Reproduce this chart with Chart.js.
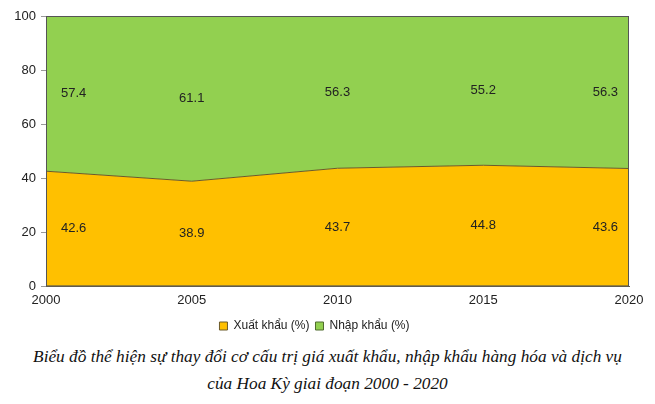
<!DOCTYPE html>
<html>
<head>
<meta charset="utf-8">
<script src="https://cdn.jsdelivr.net/npm/chart.js@4"></script>
<style>
  html, body { margin: 0; padding: 0; background: #fff; }
  #wrap { width: 655px; height: 342px; position: relative; }
  .caption {
    font-family: "Liberation Serif", "DejaVu Serif", serif;
    font-style: italic;
    font-size: 17.3px;
    text-align: center;
    color: #111;
    line-height: 27px;
    margin-top: 1px;
  }
</style>
</head>
<body>
<div id="wrap"><canvas id="chart"></canvas></div>
<div class="caption">Biểu đồ thể hiện sự thay đổi cơ cấu trị giá xuất khẩu, nhập khẩu hàng hóa và dịch vụ<br>của Hoa Kỳ giai đoạn 2000 - 2020</div>
<script>
// Dữ liệu
const years = ['2000', '2005', '2010', '2015', '2020'];
const exportShare = [42.6, 38.9, 43.7, 44.8, 43.6];
const importShare = [57.4, 61.1, 56.3, 55.2, 56.3];
const yTicks = [0, 20, 40, 60, 80, 100];

// Ghi nhãn giá trị ở giữa mỗi vùng
const valueLabels = {
    id: 'valueLabels',
    afterDatasetsDraw(chart) {
        const ctx = chart.ctx;
        const x = chart.scales.x, y = chart.scales.y;
        ctx.save();
        ctx.font = '13px "Liberation Sans", Arial, sans-serif';
        ctx.fillStyle = '#222';
        ctx.textBaseline = 'middle';
        years.forEach((yr, i) => {
            const px = x.getPixelForValue(i);
            let align = 'center', dx = 0;
            if (i === 0) { align = 'left'; dx = 15; }
            if (i === years.length - 1) { align = 'right'; dx = -11; }
            ctx.textAlign = align;
            const e = exportShare[i], m = importShare[i];
            ctx.fillText(e.toFixed(1), px + dx, y.getPixelForValue(e / 2));
            ctx.fillText(m.toFixed(1), px + dx, y.getPixelForValue(e + m / 2));
        });
        // khung vùng vẽ
        const a = chart.chartArea;
        ctx.strokeStyle = '#555';
        ctx.lineWidth = 1;
        ctx.strokeRect(a.left + 0.5, a.top + 0.5, a.right - a.left - 1, a.bottom - a.top - 1);
        ctx.restore();
    }
};

const ctx = document.getElementById('chart').getContext('2d');
const chart = new Chart(ctx, {
    type: 'line',
    data: {
        labels: years,
        datasets: [{
            label: 'Xuất khẩu (%)',
            data: exportShare,
            backgroundColor: '#ffc000',
            borderColor: '#6b5a2a',
            borderWidth: 1,
            pointRadius: 0,
            fill: 'origin',
            tension: 0
        }, {
            label: 'Nhập khẩu (%)',
            data: importShare,
            backgroundColor: '#92d050',
            borderColor: '#4f6b2e',
            borderWidth: 1,
            pointRadius: 0,
            fill: '-1',
            tension: 0
        }]
    },
    options: {
        responsive: true,
        maintainAspectRatio: false,
        animation: false,
        layout: { padding: { top: 16, right: 26, left: 0, bottom: 0 } },
        scales: {
            x: {
                type: 'category',
                offset: false,
                grid: { display: false, drawTicks: false },
                border: { display: true, color: '#555' },
                ticks: {
                    color: '#222',
                    padding: 6,
                    maxRotation: 0,
                    font: { size: 13, family: '"Liberation Sans", Arial, sans-serif' }
                }
            },
            y: {
                stacked: true,
                min: 0,
                max: 100,
                afterBuildTicks(axis) { axis.ticks = yTicks.map(v => ({ value: v })); },
                afterFit(axis) { axis.width = 46; },
                grid: { drawOnChartArea: false, drawTicks: true, tickLength: 5, color: '#999' },
                border: { display: true, color: '#555' },
                ticks: {
                    color: '#222',
                    padding: 5,
                    font: { size: 13, family: '"Liberation Sans", Arial, sans-serif' }
                }
            }
        },
        plugins: {
            legend: {
                position: 'bottom',
                labels: {
                    color: '#222',
                    boxWidth: 8,
                    boxHeight: 8,
                    padding: 6,
                    font: { size: 12, family: '"Liberation Sans", Arial, sans-serif' }
                }
            },
            tooltip: { enabled: false }
        }
    },
    plugins: [valueLabels]
});
</script>
</body>
</html>
